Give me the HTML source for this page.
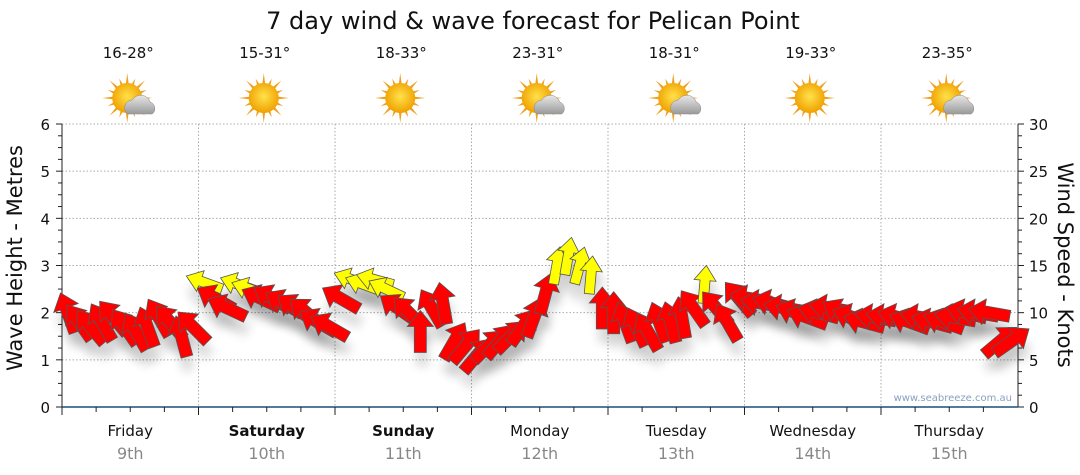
<!DOCTYPE html>
<html><head><meta charset="utf-8"><style>
body{margin:0;background:#fff;}
svg{display:block;font-family:"DejaVu Sans","Liberation Sans",sans-serif;}
</style></head><body>
<svg id="chart" width="1080" height="475" viewBox="0 0 1080 475">
<defs>
<filter id="sh" x="-50%" y="-50%" width="200%" height="200%"><feGaussianBlur stdDeviation="5"/></filter>
<radialGradient id="sun" cx="50%" cy="45%" r="55%"><stop offset="0" stop-color="#ffe24a"/><stop offset="1" stop-color="#f0a000"/></radialGradient>
<linearGradient id="cloud" x1="0" y1="0" x2="0" y2="1"><stop offset="0" stop-color="#e8e8e8"/><stop offset="1" stop-color="#9a9a9a"/></linearGradient>
</defs>
<text x="533" y="29" text-anchor="middle" font-size="24" fill="#111">7 day wind &amp; wave forecast for Pelican Point</text>
<g id="grid"></g><g id="axes"></g><g id="icons"></g><g id="shadows"></g><g id="arrows"></g>
<text x="1012" y="401" text-anchor="end" font-size="10" fill="#8aa0c0">www.seabreeze.com.au</text>
<text transform="translate(22,258) rotate(-90)" text-anchor="middle" font-size="21" fill="#111">Wave Height - Metres</text>
<text transform="translate(1058,265) rotate(90)" text-anchor="middle" font-size="21" fill="#111">Wind Speed - Knots</text>
</svg>
<script>
const days=["Friday","Saturday","Sunday","Monday","Tuesday","Wednesday","Thursday"];
const dates=["9th","10th","11th","12th","13th","14th","15th"];
const temps=["16-28°","15-31°","18-33°","23-31°","18-31°","19-33°","23-35°"];
const cloudy=[1,0,0,1,1,0,1];
const waveTicks=[0,1,2,3,4,5,6];
const windTicks=[0,5,10,15,20,25,30];
const speeds=[10,9,8.5,9,9.5,8.5,8,8.5,9.5,9,7.5,8.5,
13.2,11.5,10.5,13,12.5,11.5,11.5,11,10.5,10,9,8.5,
11.5,13.5,13,13.5,12.5,10.5,10,8,10.5,11,7,6.5,
5.5,6.5,7,7.5,8.5,9.5,12,15,16,15,14,10.5,
10,9,8.5,8,9,9,9.5,10.5,13,10.5,9,11.5,
11.5,11,11,10.5,10,9.5,10,10.5,10,9.5,9,9.5,
9.5,9.5,9,9.5,9,9,9.5,10,10,10,7,7];
const dirs=[-20,-35,-40,-30,-40,-35,-30,-20,-30,-40,-15,-45,
-70,-60,-65,-70,-70,-65,-60,-60,-55,-50,-60,-60,
-60,-70,-70,-75,-65,-55,-45,0,-30,-10,30,40,
40,45,40,45,35,20,15,10,10,15,5,0,
0,-20,-25,-30,-20,-15,-10,-35,5,-40,-30,-40,
-80,-80,-75,-80,-70,-70,-75,-80,-60,-70,-75,-80,
-80,-75,-70,-80,-75,-70,-80,-75,-80,-80,50,55];
const X0=62,DW=136.5,Y0=407,YT=124;
const xT=h=>X0+h/24*DW;
const yW=m=>Y0-(m/6)*(Y0-YT);
const yK=k=>Y0-(k/30)*(Y0-YT);
const NS="http://www.w3.org/2000/svg";
function mk(t,a,p){const e=document.createElementNS(NS,t);for(const k in a)e.setAttribute(k,a[k]);if(p)p.appendChild(e);return e;}
const grid=document.getElementById('grid'),axes=document.getElementById('axes');
waveTicks.forEach(v=>{if(v>0){const l=mk('line',{x1:X0,x2:1018,y1:yW(v),y2:yW(v),stroke:'#aaa','stroke-dasharray':'1.5,2'},grid);

}
const t=mk('text',{x:50,y:yW(v)+6,'text-anchor':'end','font-size':15,fill:'#111'},axes);t.textContent=v;

});
windTicks.forEach(v=>{const t=mk('text',{x:1029,y:yK(v)+6,'font-size':15,fill:'#111'},axes);t.textContent=v;

});
for(let i=0;i<=24;i++){const y=yW(i*0.25);const w=(i%4==0)?6:4;
mk('line',{x1:X0,x2:X0-w,y1:y,y2:y,stroke:'#222'},axes);mk('line',{x1:1018,x2:1018+w,y1:y,y2:y,stroke:'#222'},axes);}
mk('line',{x1:X0,x2:X0,y1:YT,y2:Y0,stroke:'#222'},axes);mk('line',{x1:1018,x2:1018,y1:YT,y2:Y0,stroke:'#222'},axes);
mk('line',{x1:X0,x2:1018,y1:Y0,y2:Y0,stroke:'#1a4d7a','stroke-width':1.5},axes);
for(let d=0;d<7;d++){
 if(d>0){const l=mk('line',{x1:xT(d*24),x2:xT(d*24),y1:YT,y2:Y0,stroke:'#aaa','stroke-dasharray':'1.5,2'},grid);
 
 }
 for(let q=0;q<4;q++){const x=xT(d*24+q*6);mk('line',{x1:x,x2:x,y1:Y0,y2:Y0+(q==0?8:5),stroke:'#222'},axes);}
 const cx=xT(d*24+12);
 const a=mk('text',{x:cx,y:436,'text-anchor':'middle','font-size':15,fill:'#111','font-weight':(d==1||d==2)?'bold':'normal'},axes);a.textContent=days[d];
 
 
 const b=mk('text',{x:cx,y:459,'text-anchor':'middle','font-size':16,fill:'#888'},axes);b.textContent=dates[d];
 
 
 const tt=mk('text',{x:cx-2,y:58,'text-anchor':'middle','font-size':15,fill:'#111'},document.getElementById('icons'));tt.textContent=temps[d];
 
 
 const g=mk('g',{transform:`translate(${cx-3},98)`},document.getElementById('icons'));
 
 
 for(let r=0;r<16;r++){const an=r*22.5*Math.PI/180,L=r%2?21:25;
  mk('polygon',{points:`${Math.cos(an-0.12)*13},${Math.sin(an-0.12)*13} ${Math.cos(an)*L},${Math.sin(an)*L} ${Math.cos(an+0.12)*13},${Math.sin(an+0.12)*13}`,fill:'#f0a020'},g);}
 mk('circle',{cx:0,cy:0,r:15,fill:'url(#sun)'},g);
 if(cloudy[d]){mk('path',{d:'M0,16 a8,8 0 0 1 5,-14 a10,10 0 0 1 18,2 a7,7 0 0 1 2,12 z',fill:'url(#cloud)',stroke:'#888','stroke-width':0.5},g);}
}
const sh=document.getElementById('shadows'),ar=document.getElementById('arrows');
const shapeR="M0,-21 L13,-5 L6,-5 L6,21 L-6,21 L-6,-5 L-13,-5 Z";
const shapeY="M0,-19 L11,-4 L5,-4 L5,19 L-5,19 L-5,-4 L-11,-4 Z";
speeds.forEach((s,i)=>{const x=xT(i*2+1),y=yK(s);const yel=s>=12.5;
 mk('path',{d:shapeR,transform:`translate(${x+2},${y+14}) rotate(${dirs[i]})`,fill:'#000',opacity:0.15,filter:'url(#sh)'},sh);
 const p=mk('path',{d:yel?shapeY:shapeR,transform:`translate(${x},${y}) rotate(${dirs[i]})`,fill:yel?'#ffff00':'#ff0000',stroke:'#555','stroke-width':0.8},ar);
 
 
});
</script>
</body></html>
